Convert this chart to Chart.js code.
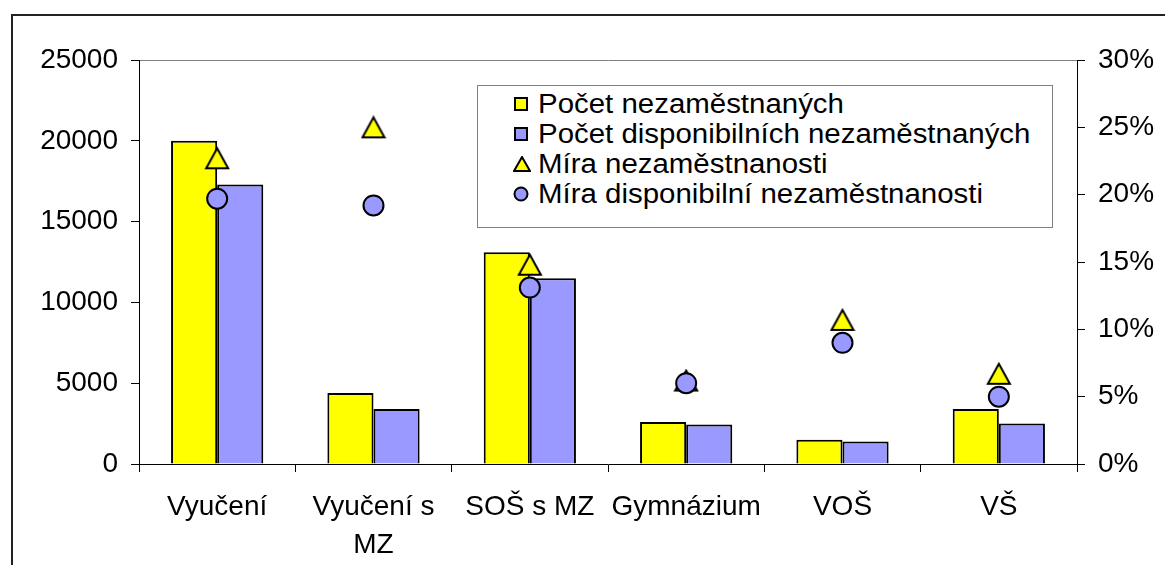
<!DOCTYPE html>
<html>
<head>
<meta charset="utf-8">
<script src="https://cdn.jsdelivr.net/npm/chart.js@4"></script>
<style>
  html, body { margin: 0; padding: 0; background: #fff; }
  #wrap { position: relative; width: 1165px; height: 565px; overflow: hidden; }
  #frame { position: absolute; left: 11px; top: 14px; width: 1200px; height: 600px;
           border-left: 2px solid #222; border-top: 2px solid #222; }
  canvas { position: absolute; left: 0; top: 0; }
  #legend { position: absolute; left: 477px; top: 85px; width: 574px; height: 141px;
            border: 1px solid #808080; background: #fff;
            font-family: "Liberation Sans", Arial, sans-serif; font-size: 27px; color: #000; }
  .row { position: absolute; left: 0; height: 30px; line-height: 30px; white-space: nowrap; }
  .row svg { position: absolute; left: 35px; top: 7px; }
  .row span { position: absolute; left: 60px; transform: scaleX(1.09); transform-origin: left center; }
</style>
</head>
<body>
<div id="wrap">
  <div id="frame"></div>
  <canvas id="chart" width="1165" height="565"></canvas>
  <div id="legend"></div>
</div>
<script>
// categories and values
const categories = ['Vyučení', ['Vyučení s', 'MZ'], 'SOŠ s MZ', 'Gymnázium', 'VOŠ', 'VŠ'];
const unemployed = [20000, 4400, 13100, 2600, 1500, 3400];
const available = [17300, 3400, 11500, 2450, 1400, 2500];
const rate = [22.7, 25.0, 14.8, 6.2, 10.7, 6.7];          // %
const availableRate = [19.7, 19.2, 13.1, 6.0, 9.0, 5.0];  // %
const countTicks = [0, 5000, 10000, 15000, 20000, 25000];
const rateTicks = [0, 5, 10, 15, 20, 25, 30];

const names = ['Počet nezaměstnaných', 'Počet disponibilních nezaměstnaných',
               'Míra nezaměstnanosti', 'Míra disponibilní nezaměstnanosti'];
const yellow = '#FFFF00';
const blue = '#9999FF';
const font = { family: '"Liberation Sans", Arial, sans-serif', size: 28 };

// triangle marker, centred on its bounding box like the original
function triangleMarker(w, h) {
    const c = document.createElement('canvas');
    c.width = w + 4; c.height = h + 4;
    const g = c.getContext('2d');
    g.beginPath();
    g.moveTo(c.width / 2, 2);
    g.lineTo(c.width - 2, c.height - 2);
    g.lineTo(2, c.height - 2);
    g.closePath();
    g.fillStyle = yellow;
    g.fill();
    g.lineWidth = 2;
    g.strokeStyle = '#000';
    g.stroke();
    return c;
}

const ctx = document.getElementById('chart').getContext('2d');
const chart = new Chart(ctx, {
    type: 'bar',
    data: {
        labels: categories,
        datasets: [
            { label: names[0], data: unemployed, backgroundColor: yellow, borderColor: '#000',
              borderWidth: 2, yAxisID: 'y', order: 3,
              categoryPercentage: 0.59, barPercentage: 1.0 },
            { label: names[1], data: available, backgroundColor: blue, borderColor: '#000',
              borderWidth: 2, yAxisID: 'y', order: 3,
              categoryPercentage: 0.59, barPercentage: 1.0 },
            { type: 'line', label: names[2], data: rate, showLine: false, yAxisID: 'y1', order: 2,
              pointStyle: triangleMarker(22, 20), pointRadius: 11, pointHoverRadius: 11 },
            { type: 'line', label: names[3], data: availableRate, showLine: false, yAxisID: 'y1', order: 1,
              pointStyle: 'circle', pointRadius: 10, pointHoverRadius: 10,
              pointBackgroundColor: blue, pointBorderColor: '#000', pointBorderWidth: 2 }
        ]
    },
    options: {
        responsive: false,
        animation: false,
        layout: { padding: { top: 60, left: 0, right: 0, bottom: 0 } },
        plugins: { legend: { display: false }, tooltip: { enabled: false } },
        scales: {
            x: {
                offset: true,
                grid: { offset: true, drawOnChartArea: false, tickLength: 8, color: '#000', tickColor: '#000' },
                border: { color: '#000', width: 1 },
                ticks: { color: '#000', font: { ...font, lineHeight: 1.36 }, autoSkip: false,
                         maxRotation: 0, padding: 16 },
                afterFit: s => { s.height = 101; }
            },
            y: {
                position: 'left', min: 0, max: 25000,
                afterBuildTicks: s => { s.ticks = countTicks.map(v => ({ value: v })); },
                grid: { tickLength: 8, tickColor: '#000',
                        color: c => c.tick && c.tick.value === 25000 ? '#808080' : 'rgba(0,0,0,0)' },
                border: { color: '#000', width: 1 },
                ticks: { color: '#000', font: font, padding: 13, callback: v => String(v) },
                afterFit: s => { s.width = 139; }
            },
            y1: {
                position: 'right', min: 0, max: 30,
                afterBuildTicks: s => { s.ticks = rateTicks.map(v => ({ value: v })); },
                grid: { drawOnChartArea: false, tickLength: 8, tickColor: '#000' },
                border: { color: '#000', width: 1 },
                ticks: { color: '#000', font: font, padding: 13, callback: v => v + '%' },
                afterFit: s => { s.width = 1165 - 1077; }
            }
        }
    }
});

// legend box inside the plot area
const markers = [
    `<svg width="16" height="16"><rect x="2" y="2" width="12" height="12" fill="${yellow}" stroke="#000" stroke-width="2"/></svg>`,
    `<svg width="16" height="16"><rect x="2" y="2" width="12" height="12" fill="${blue}" stroke="#000" stroke-width="2"/></svg>`,
    `<svg width="18" height="16"><polygon points="9,1 17,15 1,15" fill="${yellow}" stroke="#000" stroke-width="2"/></svg>`,
    `<svg width="16" height="16"><circle cx="8" cy="8" r="6.5" fill="${blue}" stroke="#000" stroke-width="2"/></svg>`
];
const legend = document.getElementById('legend');
names.forEach((name, i) => {
    const row = document.createElement('div');
    row.className = 'row';
    row.style.top = (3 + i * 30) + 'px';
    row.innerHTML = markers[i] + '<span>' + name + '</span>';
    legend.appendChild(row);
});
</script>
</body>
</html>
